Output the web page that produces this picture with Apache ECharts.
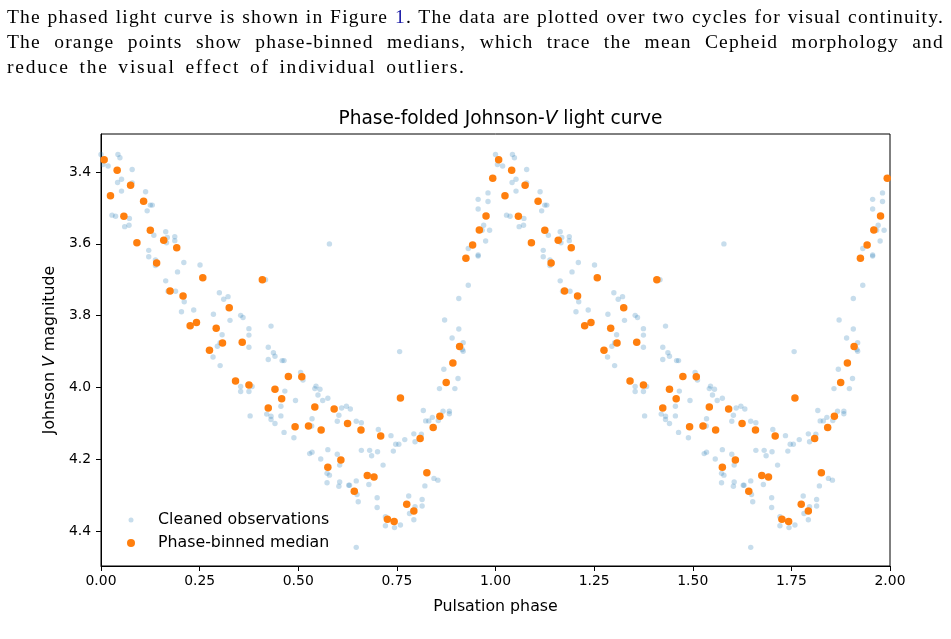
<!DOCTYPE html>
<html>
<head>
<meta charset="utf-8">
<script src="https://cdn.jsdelivr.net/npm/echarts@6/dist/echarts.min.js"></script>
<style>
  body { margin: 0; background: #fff; }
  #chart { position: absolute; left: 0; top: 0; width: 951px; height: 639px; }
  #text {
    position: absolute; left: 7px; top: 4px; width: 937px; z-index: 2;
    font-family: "Liberation Serif", "DejaVu Serif", serif; font-size: 19.5px;
    line-height: 25px; color: #000; letter-spacing: 1.2px; white-space: nowrap;
  }
  #text .j { text-align: justify; text-align-last: justify; }
  #text .last { letter-spacing: 1.8px; word-spacing: 3px; }
  #text a { color: #1a1aa6; text-decoration: none; }
</style>
</head>
<body>
<div id="text">
  <div class="j">The phased light curve is shown in Figure <a>1</a>. The data are plotted over two cycles for visual continuity.</div>
  <div class="j">The orange points show phase-binned medians, which trace the mean Cepheid morphology and</div>
  <div class="last">reduce the visual effect of individual outliers.</div>
</div>
<div id="chart"></div>
<script>
// one pulsation cycle, [phase, V mag]; plotted again shifted by +1
const obsPoints = [
  [0.000,3.351],[0.043,3.351],[0.048,3.360],[0.005,3.379],[0.018,3.383],[0.079,3.393],[0.052,3.420],[0.042,3.429],
  [0.079,3.430],[0.052,3.453],[0.113,3.455],[0.125,3.492],[0.130,3.492],[0.117,3.508],[0.028,3.520],[0.037,3.523],
  [0.072,3.529],[0.060,3.552],[0.071,3.548],[0.164,3.566],[0.134,3.576],[0.168,3.582],[0.187,3.580],[0.166,3.597],
  [0.187,3.591],[0.121,3.618],[0.121,3.636],[0.138,3.645],[0.138,3.660],[0.210,3.652],[0.251,3.659],[0.194,3.678],
  [0.417,3.700],[0.164,3.703],[0.170,3.732],[0.189,3.732],[0.211,3.761],[0.204,3.789],[0.235,3.784],[0.300,3.736],
  [0.311,3.754],[0.322,3.747],[0.285,3.796],[0.327,3.813],[0.354,3.799],[0.360,3.805],[0.375,3.836],[0.375,3.854],
  [0.431,3.829],[0.307,3.853],[0.302,3.875],[0.295,3.885],[0.284,3.915],[0.302,3.939],[0.375,3.888],[0.424,3.888],
  [0.424,3.922],[0.437,3.903],[0.441,3.913],[0.459,3.925],[0.464,3.925],[0.354,3.997],[0.354,4.011],[0.375,4.011],
  [0.383,3.997],[0.466,4.010],[0.493,4.036],[0.456,4.052],[0.378,4.079],[0.420,4.074],[0.431,4.080],[0.431,4.089],
  [0.456,4.079],[0.441,4.100],[0.464,4.125],[0.489,4.140],
  [0.506,3.958],[0.512,3.979],[0.542,4.003],[0.550,4.021],[0.555,4.005],[0.545,3.996],[0.575,4.030],[0.562,4.036],
  [0.535,4.087],[0.534,4.107],[0.599,4.094],[0.603,4.077],[0.610,4.057],[0.622,4.052],[0.632,4.060],[0.575,4.173],
  [0.557,4.199],[0.573,4.239],[0.579,4.244],[0.573,4.265],[0.529,4.184],[0.535,4.180],[0.599,4.186],[0.605,4.216],
  [0.603,4.275],[0.605,4.263],[0.628,4.272],[0.630,4.272],[0.647,4.260],[0.649,4.298],[0.652,4.318],[0.647,4.094],
  [0.660,4.098],[0.660,4.175],[0.681,4.175],[0.686,4.190],[0.701,4.179],[0.679,4.270],[0.703,4.117],[0.715,4.216],
  [0.700,4.307],[0.700,4.334],[0.735,4.134],[0.747,4.158],[0.755,4.158],[0.741,4.177],[0.770,4.145],[0.793,4.129],
  [0.796,4.151],[0.812,4.130],[0.817,4.064],[0.823,4.093],[0.831,4.093],[0.840,4.083],[0.855,4.092],[0.858,4.003],
  [0.867,4.066],[0.883,4.073],[0.883,4.066],[0.869,3.949],[0.890,3.862],[0.907,3.837],[0.918,3.875],[0.918,3.899],
  [0.916,3.894],[0.905,3.975],[0.897,4.003],[0.871,3.812],[0.907,3.752],[0.931,3.715],[0.931,3.613],[0.956,3.631],
  [0.956,3.634],[0.970,3.548],[0.966,3.562],[0.975,3.592],[0.985,3.562],[0.956,3.503],[0.956,3.476],[0.981,3.458],
  [0.981,3.482],[0.757,3.900],[0.579,3.600],[0.647,4.445],[0.721,4.360],[0.721,4.385],[0.744,4.390],[0.759,4.383],
  [0.780,4.302],[0.782,4.351],[0.793,4.368],[0.796,4.332],[0.814,4.312],[0.814,4.330],[0.821,4.274],[0.844,4.253],
  [0.854,4.258]
]

const medianPoints = [
  [0.008,3.366],[0.024,3.466],[0.041,3.395],[0.058,3.523],[0.075,3.437],[0.091,3.597],[0.108,3.481],[0.125,3.562],
  [0.141,3.653],[0.159,3.590],[0.175,3.731],[0.192,3.611],[0.208,3.745],[0.226,3.828],[0.242,3.819],[0.258,3.694],
  [0.275,3.896],[0.292,3.835],[0.308,3.876],[0.325,3.778],[0.341,3.982],[0.358,3.874],[0.375,3.993],[0.409,3.700],
  [0.424,4.057],[0.441,4.005],[0.458,4.031],[0.475,3.969],[0.492,4.109],[0.509,3.970],[0.526,4.107],[0.542,4.054],
  [0.558,4.118],[0.575,4.222],[0.591,4.060],[0.608,4.202],[0.625,4.100],[0.642,4.289],[0.659,4.118],[0.675,4.245],
  [0.692,4.249],[0.709,4.135],[0.726,4.367],[0.743,4.373],[0.759,4.029],[0.775,4.325],[0.793,4.344],[0.809,4.142],
  [0.826,4.237],[0.842,4.111],[0.859,4.080],[0.875,3.986],[0.892,3.932],[0.909,3.886],[0.925,3.640],[0.942,3.603],
  [0.959,3.561],[0.976,3.522],[0.993,3.417]
]

const cycles = [0, 1]
const yTicks = [3.4, 3.6, 3.8, 4.0, 4.2, 4.4]

const twoCycles = pts => cycles.flatMap(c => pts.map(p => [p[0] + c, p[1]]))

const font = 'DejaVu Sans'
const labelSize = 15.8
const chart = echarts.init(document.getElementById('chart'))
chart.setOption({
  animation: false,
  title: {
    text: '{n|Phase-folded Johnson-}{i|V}{n| light curve}',
    left: 495.5, textAlign: 'center', top: 105,
    textStyle: {
      rich: {
        n: { fontFamily: font, fontSize: 18.6, fontWeight: 'normal', color: '#000' },
        i: { fontFamily: font, fontSize: 18.6, fontWeight: 'normal', color: '#000', fontStyle: 'italic' }
      }
    }
  },
  grid: { left: 101, top: 134, width: 789, height: 432, show: true, borderColor: '#000', borderWidth: 1 },
  legend: [
    {
      data: [{ name: 'Cleaned observations', icon: 'circle', itemStyle: { color: '#1f77b4', opacity: 0.25 } }],
      left: 128.5, top: 512, padding: 0, itemWidth: 5, itemHeight: 5,
      textStyle: { fontFamily: font, fontSize: labelSize, color: '#000', padding: [0, 0, 0, 19.5] }
    },
    {
      data: [{ name: 'Phase-binned median', icon: 'circle', itemStyle: { color: '#ff7f0e' } }],
      left: 127, top: 535, padding: 0, itemWidth: 8, itemHeight: 8,
      textStyle: { fontFamily: font, fontSize: labelSize, color: '#000', padding: [0, 0, 0, 18] }
    }
  ],
  xAxis: {
    type: 'value', min: 0, max: 2, interval: 0.25,
    name: 'Pulsation phase', nameLocation: 'middle', nameGap: 33,
    nameTextStyle: { fontFamily: font, fontSize: labelSize, color: '#000' },
    axisLine: { show: true, lineStyle: { color: '#000', width: 1 } },
    axisTick: { show: true, length: 5, lineStyle: { color: '#000', width: 1 } },
    axisLabel: { margin: 8, fontFamily: font, fontSize: 13.9, color: '#000', formatter: v => v.toFixed(2) },
    splitLine: { show: false }
  },
  yAxis: {
    type: 'value', inverse: true, min: 3.294, max: 4.497,
    name: '{n|Johnson }{i|V}{n| magnitude}', nameLocation: 'middle', nameGap: 43, nameRotate: 90,
    nameTextStyle: {
      rich: {
        n: { fontFamily: font, fontSize: labelSize, color: '#000' },
        i: { fontFamily: font, fontSize: labelSize, color: '#000', fontStyle: 'italic' }
      }
    },
    axisLine: { show: true, lineStyle: { color: '#000', width: 1 } },
    axisTick: { show: true, length: 5, customValues: yTicks, lineStyle: { color: '#000', width: 1 } },
    axisLabel: { margin: 10, customValues: yTicks, fontFamily: font, fontSize: 13.9, color: '#000', formatter: v => v.toFixed(1) },
    splitLine: { show: false }
  },
  series: [
    {
      name: 'Cleaned observations', type: 'scatter', symbol: 'circle', symbolSize: 5.4, z: 2,
      itemStyle: { color: '#1f77b4', opacity: 0.25 },
      data: twoCycles(obsPoints)
    },
    {
      name: 'Phase-binned median', type: 'scatter', symbol: 'circle', symbolSize: 7.5, z: 3,
      itemStyle: { color: '#ff7f0e', opacity: 1 },
      data: twoCycles(medianPoints)
    }
  ]
})
</script>
</body>
</html>
